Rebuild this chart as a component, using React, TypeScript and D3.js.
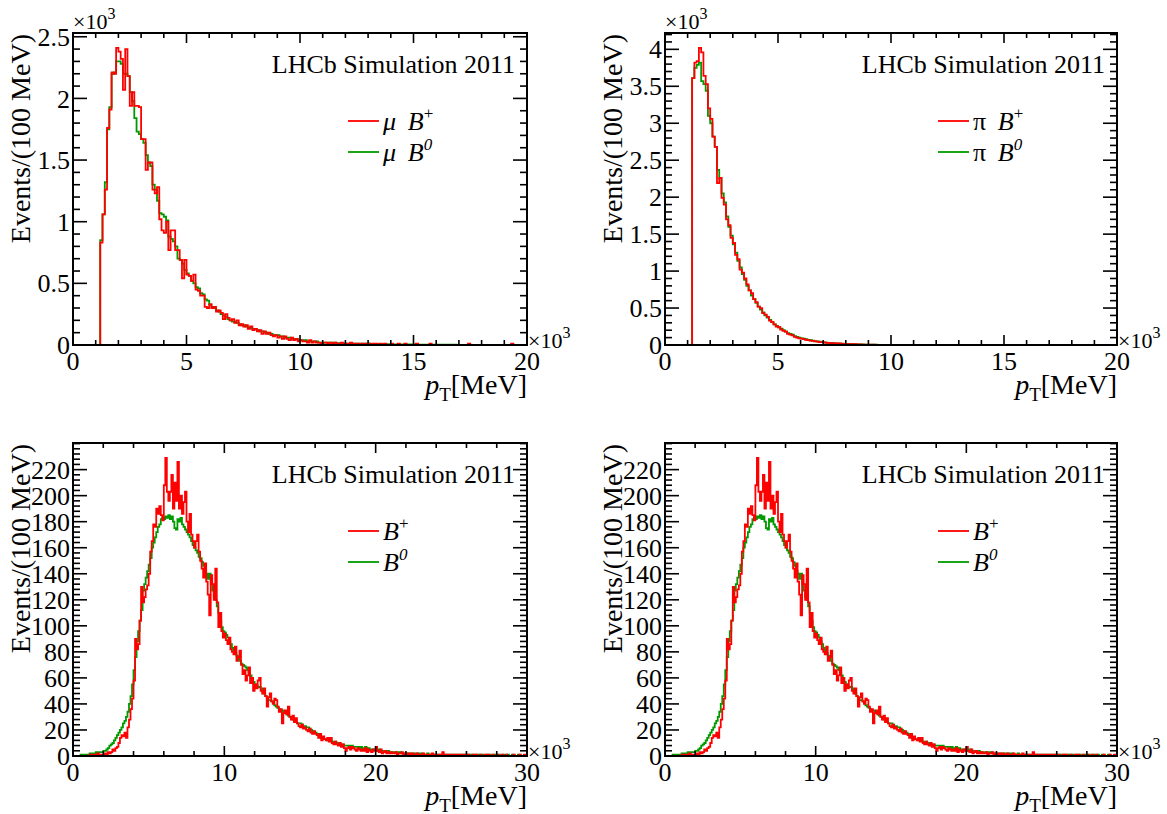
import React from 'react';
import * as d3 from 'd3';

// ---------- data (bin width 100 MeV, values per bin) ----------
const BIN = 0.1; // GeV (axis in units of 10^3 MeV)

// top-left: muon pT, values in 10^3 events, 0..20 GeV, 200 bins
const MU_BPLUS = [
  0, 0, 0, 0, 0, 0, 0, 0, 0, 0,
  0, 0, 0.83, 1.06, 1.26, 1.76, 1.91, 2.21, 2.20, 2.41,
  2.38, 2.32, 2.07, 2.40, 2.18, 1.94, 2.05, 1.94, 1.94, 1.93,
  1.67, 1.67, 1.42, 1.48, 1.48, 1.26, 1.23, 1.28, 1.02, 0.93,
  0.91, 1.00, 0.77, 0.93, 0.93, 0.77, 0.77, 0.69, 0.54, 0.69,
  0.57, 0.56, 0.52, 0.57, 0.45, 0.44, 0.40, 0.40, 0.31, 0.30,
  0.33, 0.30, 0.31, 0.27, 0.28, 0.26, 0.21, 0.25, 0.22, 0.20,
  0.21, 0.18, 0.20, 0.16, 0.17, 0.15, 0.16, 0.13, 0.15, 0.12,
  0.13, 0.11, 0.12, 0.09, 0.11, 0.09, 0.10, 0.08, 0.07, 0.08,
  0.06, 0.07, 0.05, 0.07, 0.05, 0.04, 0.06, 0.04, 0.05, 0.03,
  0.04, 0.03, 0.03, 0.02, 0.04, 0.02, 0.03, 0.02, 0.02, 0.01,
  0.02, 0.02, 0.01, 0.02, 0.01, 0.02, 0.01, 0.01, 0.02, 0.01,
  0.01, 0.01, 0.02, 0.01, 0.01, 0.01, 0.00, 0.01, 0.01, 0.01,
  0.01, 0.00, 0.01, 0.01, 0.00, 0.01, 0.00, 0.01, 0.00, 0.00,
  0.01, 0.00, 0.00, 0.01, 0.00, 0.00, 0.01, 0.00, 0.00, 0.00,
  0.00, 0.01, 0.00, 0.00, 0.00, 0.00, 0.00, 0.01, 0.00, 0.00,
  0.00, 0.00, 0.00, 0.00, 0.00, 0.00, 0.00, 0.00, 0.00, 0.00,
  0.00, 0.00, 0.00, 0.00, 0.01, 0.00, 0.00, 0.00, 0.00, 0.00,
  0.00, 0.00, 0.00, 0.00, 0.00, 0.00, 0.00, 0.00, 0.00, 0.00,
  0.00, 0.00, 0.00, 0.01, 0.00, 0.00, 0.00, 0.00, 0.00, 0.00,
];
const MU_B0 = [
  0, 0, 0, 0, 0, 0, 0, 0, 0, 0,
  0, 0, 0.85, 1.06, 1.32, 1.75, 1.93, 2.20, 2.21, 2.30,
  2.30, 2.28, 2.20, 2.20, 2.18, 2.05, 1.98, 1.84, 1.73, 1.71,
  1.67, 1.64, 1.54, 1.48, 1.45, 1.30, 1.26, 1.17, 1.07, 1.06,
  1.04, 1.01, 0.88, 0.86, 0.84, 0.80, 0.70, 0.69, 0.66, 0.61,
  0.58, 0.56, 0.52, 0.50, 0.47, 0.46, 0.42, 0.41, 0.37, 0.36,
  0.33, 0.31, 0.30, 0.28, 0.27, 0.25, 0.24, 0.23, 0.21, 0.20,
  0.19, 0.19, 0.18, 0.17, 0.16, 0.16, 0.15, 0.14, 0.14, 0.13,
  0.13, 0.12, 0.11, 0.11, 0.10, 0.10, 0.09, 0.09, 0.08, 0.08,
  0.08, 0.07, 0.07, 0.06, 0.06, 0.06, 0.05, 0.05, 0.05, 0.04,
  0.04, 0.04, 0.04, 0.03, 0.03, 0.03, 0.03, 0.03, 0.02, 0.02,
  0.02, 0.02, 0.02, 0.02, 0.02, 0.02, 0.015, 0.015, 0.015, 0.01,
  0.01, 0.01, 0.01, 0.01, 0.01, 0.01, 0.01, 0.01, 0.01, 0.01,
  0.01, 0.008, 0.008, 0.008, 0.008, 0.008, 0.007, 0.007, 0.007, 0.006,
  0.006, 0.005, 0.005, 0.005, 0.005, 0.005, 0.005, 0.004, 0.004, 0.004,
  0.004, 0.004, 0.003, 0.003, 0.003, 0.003, 0.003, 0.003, 0.003, 0.002,
  0.002, 0.002, 0.002, 0.002, 0.002, 0.002, 0.002, 0.002, 0.002, 0.001,
  0.001, 0.001, 0.001, 0.001, 0.001, 0.001, 0.001, 0.001, 0.001, 0.001,
  0.001, 0.001, 0.001, 0.001, 0.001, 0.001, 0.001, 0.001, 0.001, 0.001,
  0.001, 0.001, 0.001, 0.001, 0.001, 0.001, 0.001, 0.001, 0.001, 0.001,
];

// top-right: pion pT, values in 10^3 events, 0..20 GeV, 200 bins
const PI_BPLUS = [
  0, 0, 0, 0, 0, 0, 0, 0, 0, 0,
  0, 0, 3.61, 3.82, 3.84, 4.02, 3.96, 3.64, 3.53, 3.20,
  3.06, 2.82, 2.68, 2.19, 2.26, 1.99, 1.90, 1.70, 1.62, 1.45,
  1.38, 1.22, 1.16, 1.02, 0.98, 0.90, 0.82, 0.74, 0.70, 0.62,
  0.58, 0.52, 0.50, 0.43, 0.41, 0.38, 0.33, 0.31, 0.28, 0.25,
  0.24, 0.21, 0.19, 0.18, 0.15, 0.14, 0.13, 0.11, 0.10, 0.09,
  0.085, 0.08, 0.07, 0.065, 0.06, 0.055, 0.05, 0.045, 0.04, 0.04,
  0.035, 0.03, 0.03, 0.025, 0.025, 0.02, 0.02, 0.02, 0.015, 0.015,
  0.015, 0.01, 0.01, 0.01, 0.01, 0.008, 0.008, 0.006, 0.006, 0.005,
  0.005, 0.004, 0.004, 0.003, 0.003, 0.003, 0.002, 0.002, 0.002, 0.002,
  0.001, 0.002, 0.001, 0.001, 0.001, 0.001, 0.001, 0.001, 0.001, 0.000,
  0.001, 0.000, 0.001, 0.000, 0.000, 0.001, 0.000, 0.000, 0.000, 0.000,
  0.000, 0.000, 0.000, 0.000, 0.000, 0.000, 0.000, 0.000, 0.000, 0.000,
  0.000, 0.000, 0.000, 0.000, 0.000, 0.000, 0.000, 0.000, 0.000, 0.000,
  0.000, 0.000, 0.000, 0.000, 0.000, 0.000, 0.000, 0.000, 0.000, 0.000,
  0.000, 0.000, 0.000, 0.000, 0.000, 0.000, 0.000, 0.000, 0.000, 0.000,
  0.000, 0.000, 0.000, 0.000, 0.000, 0.000, 0.000, 0.000, 0.000, 0.000,
  0.000, 0.000, 0.000, 0.000, 0.000, 0.000, 0.000, 0.000, 0.000, 0.000,
  0.000, 0.000, 0.000, 0.000, 0.000, 0.000, 0.000, 0.000, 0.000, 0.000,
  0.000, 0.000, 0.000, 0.000, 0.000, 0.000, 0.000, 0.000, 0.000, 0.000,
];
const PI_B0 = [
  0, 0, 0, 0, 0, 0, 0, 0, 0, 0,
  0, 0, 3.61, 3.75, 3.79, 3.82, 3.57, 3.53, 3.44, 3.10,
  3.00, 2.82, 2.68, 2.37, 2.26, 2.05, 1.93, 1.74, 1.60, 1.48,
  1.36, 1.25, 1.14, 1.05, 0.96, 0.88, 0.80, 0.74, 0.67, 0.62,
  0.57, 0.52, 0.48, 0.44, 0.40, 0.37, 0.34, 0.31, 0.28, 0.26,
  0.24, 0.22, 0.20, 0.18, 0.16, 0.15, 0.14, 0.12, 0.11, 0.10,
  0.09, 0.085, 0.078, 0.07, 0.064, 0.058, 0.053, 0.048, 0.044, 0.04,
  0.036, 0.033, 0.03, 0.027, 0.025, 0.022, 0.02, 0.018, 0.017, 0.015,
  0.014, 0.012, 0.011, 0.01, 0.009, 0.008, 0.008, 0.007, 0.006, 0.006,
  0.005, 0.005, 0.004, 0.004, 0.003, 0.003, 0.003, 0.002, 0.002, 0.002,
  0.002, 0.001, 0.001, 0.001, 0.001, 0.001, 0.001, 0.001, 0.001, 0.001,
  0.001, 0.001, 0.000, 0.000, 0.000, 0.000, 0.000, 0.000, 0.000, 0.000,
  0.000, 0.000, 0.000, 0.000, 0.000, 0.000, 0.000, 0.000, 0.000, 0.000,
  0.000, 0.000, 0.000, 0.000, 0.000, 0.000, 0.000, 0.000, 0.000, 0.000,
  0.000, 0.000, 0.000, 0.000, 0.000, 0.000, 0.000, 0.000, 0.000, 0.000,
  0.000, 0.000, 0.000, 0.000, 0.000, 0.000, 0.000, 0.000, 0.000, 0.000,
  0.000, 0.000, 0.000, 0.000, 0.000, 0.000, 0.000, 0.000, 0.000, 0.000,
  0.000, 0.000, 0.000, 0.000, 0.000, 0.000, 0.000, 0.000, 0.000, 0.000,
  0.000, 0.000, 0.000, 0.000, 0.000, 0.000, 0.000, 0.000, 0.000, 0.000,
  0.000, 0.000, 0.000, 0.000, 0.000, 0.000, 0.000, 0.000, 0.000, 0.000,
];

// bottom: B pT, events per bin, 0..30 GeV, 300 bins
const B_BPLUS = [
  0, 0, 0, 0, 0, 0, 0, 0, 0, 0,
  0, 1, 0, 1, 1, 0, 2, 1, 0, 1,
  1, 2, 1, 3, 2, 3, 5, 4, 6, 7,
  10, 14, 16, 15, 18, 14, 22, 28, 36, 44,
  58, 90, 82, 86, 104, 130, 118, 122, 128, 131,
  140, 157, 165, 178, 176, 190, 186, 192, 185, 181,
  208, 229, 203, 196, 203, 216, 190, 210, 196, 226,
  190, 200, 186, 195, 203, 180, 172, 186, 170, 165,
  160, 165, 170, 157, 150, 144, 137, 148, 134, 124,
  108, 139, 132, 120, 144, 118, 99, 110, 96, 91,
  94, 89, 86, 91, 82, 80, 78, 84, 73, 76,
  81, 70, 63, 66, 58, 62, 68, 56, 60, 50,
  55, 52, 58, 60, 50, 48, 52, 46, 38, 45,
  48, 42, 40, 44, 43, 38, 34, 36, 25, 33,
  35, 32, 38, 30, 28, 31, 26, 29, 25, 23,
  22, 24, 21, 22, 20, 19, 21, 18, 17, 19,
  17, 16, 14, 17, 12, 15, 13, 12, 14, 11,
  14, 10, 9, 11, 9, 8, 10, 7, 9, 6,
  4, 6, 7, 5, 7, 6, 5, 4, 6, 5,
  4, 5, 4, 6, 3, 5, 4, 3, 5, 4,
  7, 4, 3, 5, 2, 3, 4, 2, 3, 2,
  3, 2, 2, 3, 1, 2, 2, 3, 1, 2,
  2, 1, 2, 1, 2, 1, 1, 2, 1, 1,
  1, 2, 1, 1, 0, 1, 1, 2, 1, 0,
  1, 1, 0, 1, 3, 1, 0, 1, 1, 0,
  1, 0, 1, 0, 1, 1, 0, 1, 0, 1,
  0, 1, 0, 0, 1, 0, 1, 0, 0, 1,
  0, 0, 1, 0, 1, 0, 0, 1, 0, 0,
  1, 0, 0, 1, 0, 0, 1, 0, 0, 0,
  0, 1, 0, 0, 0, 1, 0, 0, 1, 0,
];
const B_B0 = [
  0, 0, 0, 0, 0, 1, 0, 1, 1, 1,
  1, 2, 1, 2, 2, 3, 2, 3, 3, 3,
  4, 4, 5, 6, 8, 9, 10, 12, 14, 16,
  18, 20, 22, 25, 27, 30, 34, 40, 46, 55,
  66, 76, 88, 96, 104, 112, 127, 132, 137, 142,
  147, 152, 160, 164, 168, 172, 176, 178, 182, 183,
  182, 184, 183, 185, 182, 184, 180, 175, 174, 182,
  180, 183, 178, 176, 174, 172, 170, 168, 165, 162,
  160, 158, 156, 153, 152, 149, 146, 142, 140, 136,
  140, 132, 127, 122, 120, 115, 110, 104, 99, 96,
  95, 93, 91, 88, 86, 83, 81, 79, 77, 75,
  73, 71, 70, 69, 68, 66, 64, 62, 60, 57,
  55, 54, 53, 53, 52, 50, 48, 46, 45, 43,
  43, 42, 41, 39, 38, 37, 36, 35, 35, 34,
  33, 32, 31, 30, 29, 28, 27, 26, 25, 25,
  25, 24, 23, 23, 22, 22, 21, 20, 19, 18,
  18, 17, 16, 15, 14, 14, 13, 13, 12, 12,
  12, 11, 11, 11, 10, 10, 9, 9, 9, 8,
  8, 8, 8, 7, 8, 7, 7, 7, 7, 6,
  7, 6, 6, 7, 6, 6, 5, 5, 5, 5,
  5, 4, 5, 4, 4, 4, 3, 4, 4, 3,
  3, 3, 3, 3, 2, 3, 3, 2, 2, 2,
  2, 2, 2, 2, 2, 2, 1, 2, 2, 1,
  2, 1, 1, 1, 2, 1, 1, 1, 1, 1,
  1, 1, 1, 1, 1, 1, 1, 0, 1, 1,
  1, 1, 0, 1, 1, 0, 1, 1, 0, 1,
  0, 1, 1, 0, 1, 0, 1, 0, 1, 0,
  1, 0, 0, 1, 0, 1, 0, 0, 1, 0,
  0, 1, 0, 0, 1, 0, 0, 1, 0, 0,
  1, 0, 0, 0, 1, 0, 0, 0, 0, 0,
];

const TOP_X_TICKS = [0, 5, 10, 15, 20];
const BOT_X_TICKS = [0, 10, 20, 30];
const MU_Y_TICKS = [0, 0.5, 1, 1.5, 2, 2.5];
const PI_Y_TICKS = [0, 0.5, 1, 1.5, 2, 2.5, 3, 3.5, 4];
const B_Y_TICKS = [0, 20, 40, 60, 80, 100, 120, 140, 160, 180, 200, 220];

// ---------- style ----------
const FONT = "'Liberation Serif', 'Times New Roman', Times, serif";
const RED = '#ff0000';
const GREEN = '#009a00';

type LegendItem = { prefix: string; prefixItalic: boolean; sup: string; supItalic: boolean; color: string };

type PanelProps = {
  id: string;
  left: number; top: number; right: number; bottom: number;
  xMax: number; xTicks: number[]; xMinorStep: number;
  yTicks: number[]; yMinorStep: number;
  red: number[]; green: number[];
  yExp: boolean;
  legend: LegendItem[];
};

function fmt(v: number) {
  return String(v);
}

function Panel(p: PanelProps) {
  const x = d3.scaleLinear().domain([0, p.xMax]).range([p.left, p.right]);
  const yMax = (d3.max([...p.red, ...p.green]) as number) * 1.05;
  const y = d3.scaleLinear().domain([0, yMax]).range([p.bottom, p.top]);

  const histPath = (vals: number[]) => {
    const pts: [number, number][] = vals.map((v, i) => [i * BIN, v]);
    pts.push([vals.length * BIN, vals[vals.length - 1]]);
    const line = d3.line<[number, number]>()
      .x(d => x(d[0]))
      .y(d => y(d[1]))
      .curve(d3.curveStepAfter);
    return line(pts) || '';
  };

  const xMinor = d3.range(0, p.xMax + 1e-9, p.xMinorStep).filter(v => !p.xTicks.some(t => Math.abs(t - v) < 1e-9));
  const yMinor = d3.range(0, yMax, p.yMinorStep).filter(v => !p.yTicks.some(t => Math.abs(t - v) < 1e-9));

  const XMAJ = 10, XMIN = 5, YMAJ = 14, YMIN = 7;
  const tickStroke = { stroke: '#000', strokeWidth: 1.6 };

  const legX = p.right - 179;
  const legY0 = p.top + 88;
  const legDy = 31;

  return (
    <g>
      <defs>
        <clipPath id={p.id}>
          <rect x={p.left} y={p.top} width={p.right - p.left} height={p.bottom - p.top} />
        </clipPath>
      </defs>
      <g clipPath={`url(#${p.id})`}>
        <path d={histPath(p.green)} fill="none" stroke={GREEN} strokeWidth={1.8} />
        <path d={histPath(p.red)} fill="none" stroke={RED} strokeWidth={1.8} />
      </g>
      {/* x ticks */}
      {p.xTicks.map(t => (
        <g key={'xt' + t}>
          <line x1={x(t)} x2={x(t)} y1={p.bottom} y2={p.bottom - XMAJ} {...tickStroke} />
          <line x1={x(t)} x2={x(t)} y1={p.top} y2={p.top + XMAJ} {...tickStroke} />
          <text x={x(t)} y={p.bottom + 25} textAnchor="middle" fontSize={26} fontFamily={FONT}>{fmt(t)}</text>
        </g>
      ))}
      {xMinor.map(t => (
        <g key={'xm' + t}>
          <line x1={x(t)} x2={x(t)} y1={p.bottom} y2={p.bottom - XMIN} {...tickStroke} />
          <line x1={x(t)} x2={x(t)} y1={p.top} y2={p.top + XMIN} {...tickStroke} />
        </g>
      ))}
      {/* y ticks */}
      {p.yTicks.map(t => (
        <g key={'yt' + t}>
          <line x1={p.left} x2={p.left + YMAJ} y1={y(t)} y2={y(t)} {...tickStroke} />
          <line x1={p.right} x2={p.right - YMAJ} y1={y(t)} y2={y(t)} {...tickStroke} />
          <text x={p.left - 3} y={y(t)} dy="0.35em" textAnchor="end" fontSize={26} fontFamily={FONT}>{fmt(t)}</text>
        </g>
      ))}
      {yMinor.map(t => (
        <g key={'ym' + t}>
          <line x1={p.left} x2={p.left + YMIN} y1={y(t)} y2={y(t)} {...tickStroke} />
          <line x1={p.right} x2={p.right - YMIN} y1={y(t)} y2={y(t)} {...tickStroke} />
        </g>
      ))}
      {/* frame */}
      <rect x={p.left} y={p.top} width={p.right - p.left} height={p.bottom - p.top} fill="none" stroke="#000" strokeWidth={2} />

      {/* exponents */}
      {p.yExp && (
        <text x={p.left} y={p.top - 4} fontSize={22} fontFamily={FONT}>
          ×10<tspan dy={-10} fontSize={16}>3</tspan>
        </text>
      )}
      <text x={p.right + 1} y={p.bottom + 3} fontSize={22} fontFamily={FONT}>
        ×10<tspan dy={-10} fontSize={16}>3</tspan>
      </text>

      {/* axis titles */}
      <text x={p.right} y={p.bottom + 49} textAnchor="end" fontSize={28} fontFamily={FONT}>
        <tspan fontStyle="italic">p</tspan>
        <tspan dy={7} fontSize={19}>T</tspan>
        <tspan dy={-7}>[MeV]</tspan>
      </text>
      <text transform={`translate(${p.left - 43},${p.top + 1}) rotate(-90)`} textAnchor="end" fontSize={28} fontFamily={FONT}>
        Events/(100 MeV)
      </text>

      {/* label */}
      <text x={p.right - 12} y={p.top + 40} textAnchor="end" fontSize={26} fontFamily={FONT}>LHCb Simulation 2011</text>

      {/* legend */}
      {p.legend.map((l, i) => (
        <g key={'lg' + i}>
          <line x1={legX} x2={legX + 31} y1={legY0 + i * legDy} y2={legY0 + i * legDy} stroke={l.color} strokeWidth={1.8} />
          <text x={legX + 35} y={legY0 + i * legDy + 9} fontSize={26} fontFamily={FONT}>
            {l.prefix && <tspan fontStyle={l.prefixItalic ? 'italic' : 'normal'}>{l.prefix + '\u00a0\u2009'}</tspan>}
            <tspan fontStyle="italic">B</tspan>
            <tspan dy={-11} fontSize={17} fontStyle={l.supItalic ? 'italic' : 'normal'}>{l.sup}</tspan>
          </text>
        </g>
      ))}
    </g>
  );
}

export default function App() {
  const L1 = 73, R1 = 527, L2 = 665, R2 = 1117;
  const T1 = 33, B1 = 345, T2 = 443, B2 = 756;
  const muLeg: LegendItem[] = [
    { prefix: 'μ', prefixItalic: true, sup: '+', supItalic: false, color: RED },
    { prefix: 'μ', prefixItalic: true, sup: '0', supItalic: true, color: GREEN },
  ];
  const piLeg: LegendItem[] = [
    { prefix: 'π', prefixItalic: false, sup: '+', supItalic: false, color: RED },
    { prefix: 'π', prefixItalic: false, sup: '0', supItalic: true, color: GREEN },
  ];
  const bLeg: LegendItem[] = [
    { prefix: '', prefixItalic: false, sup: '+', supItalic: false, color: RED },
    { prefix: '', prefixItalic: false, sup: '0', supItalic: true, color: GREEN },
  ];
  return (
    <svg width={1167} height={814} style={{ position: 'absolute', left: 0, top: 0, background: '#fff' }}>
      <rect width={1167} height={814} fill="#fff" />
      <Panel id="c1" left={L1} right={R1} top={T1} bottom={B1} xMax={20} xTicks={TOP_X_TICKS} xMinorStep={1}
        yTicks={MU_Y_TICKS} yMinorStep={0.1} red={MU_BPLUS} green={MU_B0} yExp={true} legend={muLeg} />
      <Panel id="c2" left={L2} right={R2} top={T1} bottom={B1} xMax={20} xTicks={TOP_X_TICKS} xMinorStep={1}
        yTicks={PI_Y_TICKS} yMinorStep={0.1} red={PI_BPLUS} green={PI_B0} yExp={true} legend={piLeg} />
      <Panel id="c3" left={L1} right={R1} top={T2} bottom={B2} xMax={30} xTicks={BOT_X_TICKS} xMinorStep={2}
        yTicks={B_Y_TICKS} yMinorStep={4} red={B_BPLUS} green={B_B0} yExp={false} legend={bLeg} />
      <Panel id="c4" left={L2} right={R2} top={T2} bottom={B2} xMax={30} xTicks={BOT_X_TICKS} xMinorStep={2}
        yTicks={B_Y_TICKS} yMinorStep={4} red={B_BPLUS} green={B_B0} yExp={false} legend={bLeg} />
    </svg>
  );
}
